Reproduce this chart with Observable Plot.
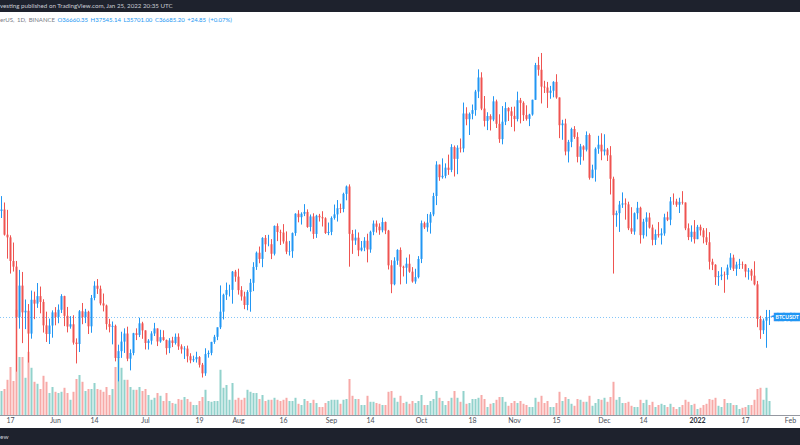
<!DOCTYPE html>
<html><head><meta charset="utf-8">
<script src="https://cdn.jsdelivr.net/npm/d3@7"></script>
<script src="https://cdn.jsdelivr.net/npm/@observablehq/plot@0.6"></script>
<style>
html,body{margin:0;padding:0;background:#fff;overflow:hidden;}
body{width:800px;height:445px;font-family:"Lato","DejaVu Sans",sans-serif;}
#top{height:12px;background:#1e222d;color:#c9ccd4;font-size:6.2px;line-height:12px;white-space:nowrap;overflow:hidden;}
#wrap{position:relative;width:800px;height:416px;overflow:hidden;}
#wrap svg{position:absolute;left:0;top:0;}
#legend{position:absolute;left:0;top:4px;font-size:6px;line-height:8px;color:#787b86;white-space:nowrap;z-index:3;word-spacing:1px;}
#legend .v{color:#2196f3;}
#bottom{height:17px;background:#1e222d;color:#c9ccd4;font-size:6.5px;line-height:17px;white-space:nowrap;overflow:hidden;}
</style></head>
<body>
<div id="top">vesting published on TradingView.com, Jan 25, 2022 20:35 UTC</div>
<div id="wrap"><div id="legend">erUS, 1D, BINANCE <span class="v">O36660.35 H37545.14 L35701.00 C36685.20 +24.85 (+0.07%)</span></div></div>
<div id="bottom">ew</div>
<script>
const dates = [
"2021-05-14","2021-05-15","2021-05-16","2021-05-17","2021-05-18","2021-05-19","2021-05-20","2021-05-21","2021-05-22","2021-05-23","2021-05-24","2021-05-25","2021-05-26","2021-05-27","2021-05-28","2021-05-29","2021-05-30","2021-05-31",
"2021-06-01","2021-06-02","2021-06-03","2021-06-04","2021-06-05","2021-06-06","2021-06-07","2021-06-08","2021-06-09","2021-06-10","2021-06-11","2021-06-12","2021-06-13","2021-06-14","2021-06-15","2021-06-16","2021-06-17","2021-06-18","2021-06-19","2021-06-20","2021-06-21","2021-06-22","2021-06-23","2021-06-24","2021-06-25","2021-06-26","2021-06-27","2021-06-28","2021-06-29","2021-06-30",
"2021-07-01","2021-07-02","2021-07-03","2021-07-04","2021-07-05","2021-07-06","2021-07-07","2021-07-08","2021-07-09","2021-07-10","2021-07-11","2021-07-12","2021-07-13","2021-07-14","2021-07-15","2021-07-16","2021-07-17","2021-07-18","2021-07-19","2021-07-20","2021-07-21","2021-07-22","2021-07-23","2021-07-24","2021-07-25","2021-07-26","2021-07-27","2021-07-28","2021-07-29","2021-07-30","2021-07-31",
"2021-08-01","2021-08-02","2021-08-03","2021-08-04","2021-08-05","2021-08-06","2021-08-07","2021-08-08","2021-08-09","2021-08-10","2021-08-11","2021-08-12","2021-08-13","2021-08-14","2021-08-15","2021-08-16","2021-08-17","2021-08-18","2021-08-19","2021-08-20","2021-08-21","2021-08-22","2021-08-23","2021-08-24","2021-08-25","2021-08-26","2021-08-27","2021-08-28","2021-08-29","2021-08-30","2021-08-31",
"2021-09-01","2021-09-02","2021-09-03","2021-09-04","2021-09-05","2021-09-06","2021-09-07","2021-09-08","2021-09-09","2021-09-10","2021-09-11","2021-09-12","2021-09-13","2021-09-14","2021-09-15","2021-09-16","2021-09-17","2021-09-18","2021-09-19","2021-09-20","2021-09-21","2021-09-22","2021-09-23","2021-09-24","2021-09-25","2021-09-26","2021-09-27","2021-09-28","2021-09-29","2021-09-30",
"2021-10-01","2021-10-02","2021-10-03","2021-10-04","2021-10-05","2021-10-06","2021-10-07","2021-10-08","2021-10-09","2021-10-10","2021-10-11","2021-10-12","2021-10-13","2021-10-14","2021-10-15","2021-10-16","2021-10-17","2021-10-18","2021-10-19","2021-10-20","2021-10-21","2021-10-22","2021-10-23","2021-10-24","2021-10-25","2021-10-26","2021-10-27","2021-10-28","2021-10-29","2021-10-30","2021-10-31",
"2021-11-01","2021-11-02","2021-11-03","2021-11-04","2021-11-05","2021-11-06","2021-11-07","2021-11-08","2021-11-09","2021-11-10","2021-11-11","2021-11-12","2021-11-13","2021-11-14","2021-11-15","2021-11-16","2021-11-17","2021-11-18","2021-11-19","2021-11-20","2021-11-21","2021-11-22","2021-11-23","2021-11-24","2021-11-25","2021-11-26","2021-11-27","2021-11-28","2021-11-29","2021-11-30",
"2021-12-01","2021-12-02","2021-12-03","2021-12-04","2021-12-05","2021-12-06","2021-12-07","2021-12-08","2021-12-09","2021-12-10","2021-12-11","2021-12-12","2021-12-13","2021-12-14","2021-12-15","2021-12-16","2021-12-17","2021-12-18","2021-12-19","2021-12-20","2021-12-21","2021-12-22","2021-12-23","2021-12-24","2021-12-25","2021-12-26","2021-12-27","2021-12-28","2021-12-29","2021-12-30","2021-12-31",
"2022-01-01","2022-01-02","2022-01-03","2022-01-04","2022-01-05","2022-01-06","2022-01-07","2022-01-08","2022-01-09","2022-01-10","2022-01-11","2022-01-12","2022-01-13","2022-01-14","2022-01-15","2022-01-16","2022-01-17","2022-01-18","2022-01-19","2022-01-20","2022-01-21","2022-01-22","2022-01-23","2022-01-24","2022-01-25"
];
const open = [
49671,49841,46762,46432,43538,42849,36690,40527,37252,37449,34655,38796,38324,39241,38529,35663,34605,35641,
37253,36693,37568,39246,36829,35513,35796,33552,33380,37388,36675,37331,35546,39020,40516,40144,38349,38092,35820,35483,35600,31676,32505,33675,34663,31584,32283,34700,34494,35911,
35045,33504,33786,34669,35287,33690,34220,33863,32875,33815,33502,34259,33086,32730,32820,31880,31383,31520,31778,30839,29790,32144,32288,33634,34258,35425,37338,39406,39995,40008,42235,
41626,39974,39202,38152,39747,40870,42816,44555,43798,46366,45585,45593,44429,47834,47097,47019,45937,44686,44742,46958,49327,48905,49322,49546,47707,48993,46852,49078,48895,48767,46970,
47100,48811,49246,49999,49915,51756,52663,46863,46048,46395,44850,45173,46026,44947,47112,48121,47737,47300,48306,47261,43012,40694,43575,44895,42840,42717,43208,42235,41034,41564,
43790,48165,47657,48233,49245,51493,55339,53797,53963,54963,54691,57484,56041,57401,57321,61593,60892,61553,62010,64280,66002,62193,60689,61286,60852,63078,60329,58455,60592,62253,61859,
61300,60911,63219,62896,61395,60937,61470,63273,67525,66947,64882,64774,64122,64380,65466,63557,60161,60369,56943,58119,59697,58730,56289,57569,57165,58960,53727,54722,57274,57776,
56950,57184,56480,53602,49152,49397,50441,50589,50471,47546,47140,49389,50053,46702,48343,48864,47632,46131,46834,46681,46914,48889,48588,50838,50821,50429,50775,50701,47543,46464,47120,
46216,47722,47287,46446,45833,43451,43082,41566,41680,41864,41822,42735,43949,42592,43099,43177,43114,42250,42375,41744,40680,36445,35071,36244,36660.35
];
const high = [
51483,50700,49800,46686,45800,43546,42451,42200,38829,38270,39920,39791,40841,40411,38856,37338,36488,37499,
37894,38225,39476,39289,37917,36790,36900,34068,37534,38400,37681,37453,39380,41064,41330,40528,39559,38203,36457,36137,35750,33298,34881,35298,35500,32730,34749,35297,36600,36100,
35057,33977,34945,35967,35293,35118,35059,33929,34100,34262,34666,34679,33340,33114,33185,32249,31955,32435,31899,31063,32858,32591,33650,34500,35398,40550,39542,40900,40640,42316,42448,
42600,40459,39780,39969,41350,43392,44700,45310,46454,46718,46743,46218,47886,48144,47372,48053,47160,46000,47033,49382,49757,49500,50500,49860,49230,49380,49200,49309,49632,48888,48246,
49000,50450,51000,50558,51900,52780,52920,47340,47399,47033,45987,46460,46880,47250,48500,48500,48150,48843,48372,47347,43639,44000,44978,45200,42970,43950,44350,42790,42590,44141,
48495,48359,49300,49528,51886,55750,55339,56100,55489,56561,57839,57680,57700,58532,62933,62360,61720,62695,64486,67000,66639,63732,61747,61500,63710,63293,61496,62499,62980,62359,62405,
62437,64270,63500,63086,62595,61560,63286,67789,68524,69000,65600,65460,64972,65550,66401,63558,60823,60948,58366,59859,60050,59292,57875,57700,59398,59150,55329,57445,58865,59176,
59053,57375,57600,53859,49699,50891,51936,51200,50797,50125,49485,50777,50189,48700,49500,49436,47995,47392,48300,47537,49328,49576,51375,51810,51156,51280,52088,50704,48139,47900,48548,
47954,47990,47570,47557,47070,43816,43145,42300,42786,42248,43100,44500,44314,43448,43800,43476,43179,42675,42572,43505,41100,36835,36499,37550,37545.14
];
const low = [
48800,46650,43825,42001,42250,30000,35258,33488,35200,31111,34031,36419,37800,37134,34779,33632,33379,34154,
35666,35920,37170,35567,34800,35258,33300,31000,32397,35800,35937,34600,34757,38730,39506,38116,37365,35129,34803,33336,31251,28805,31683,32286,31275,30151,32000,33862,34225,34017,
32711,32699,33316,34357,33125,33532,33777,32077,32261,33004,33306,32658,32203,31550,31133,31020,31164,31108,30501,29278,29482,31708,32000,33401,33851,35205,36383,38772,39200,38313,41000,
39422,38690,37642,37508,37332,39853,42446,43261,42779,44660,45341,43770,44217,45971,45500,45660,44376,44203,43927,46622,48273,48000,49035,47600,47163,46250,46370,48370,47762,46853,46700,
46700,48600,48367,49400,49500,50969,42843,44412,45514,44132,44722,44742,43370,44550,46700,47014,46750,47045,46829,42500,39600,40565,43069,40675,41646,40750,42098,40888,40753,41410,
43283,47451,47120,46891,49022,50382,53357,53617,53661,54080,54415,53879,54167,56818,56850,60150,58963,60877,61322,63481,62000,60000,59562,59510,60650,59817,58000,57820,60174,60673,59945,
59405,60624,60382,60677,60721,60050,61322,63273,66222,62822,64100,62278,63400,63576,63400,58574,58373,56474,55600,57469,58486,55610,55317,55837,56950,53500,53668,53256,56666,55875,
56458,55777,51680,42000,47727,47100,50039,48600,47320,46852,46751,48638,45672,46290,46547,47511,45456,45500,46406,45558,46630,48421,47920,50420,50171,49412,50449,47313,46096,45900,45678,
46208,46654,45696,45500,42500,42430,40610,40501,41200,39650,41268,42447,42311,41726,42555,42581,41540,41251,41138,40553,35440,34008,34601,32917,35701
];
const close = [
49841,46762,46432,43538,42849,36690,40527,37252,37449,34655,38796,38324,39241,38529,35663,34605,35641,37253,
36693,37568,39246,36829,35513,35796,33552,33380,37388,36675,37331,35546,39020,40516,40144,38349,38092,35820,35483,35600,31676,32505,33675,34663,31584,32283,34700,34494,35911,35045,
33504,33786,34669,35287,33690,34220,33863,32875,33815,33502,34259,33086,32730,32820,31880,31383,31520,31778,30839,29790,32144,32288,33634,34258,35425,37338,39406,39995,40008,42235,41626,
39974,39202,38152,39747,40870,42816,44555,43798,46366,45585,45593,44429,47834,47097,47019,45937,44686,44742,46958,49327,48905,49322,49546,47707,48993,46852,49078,48895,48767,46970,47100,
48811,49246,49999,49915,51756,52663,46863,46048,46395,44850,45173,46026,44947,47112,48121,47737,47300,48306,47261,43012,40694,43575,44895,42840,42717,43208,42235,41034,41564,43790,
48165,47657,48233,49245,51493,55339,53797,53963,54963,54691,57484,56041,57401,57321,61593,60892,61553,62010,64280,66002,62193,60689,61286,60852,63078,60329,58455,60592,62253,61859,61300,
60911,63219,62896,61395,60937,61470,63273,67525,66947,64882,64774,64122,64380,65466,63557,60161,60369,56943,58119,59697,58730,56289,57569,57165,58960,53727,54722,57274,57776,56950,
57184,56480,53602,49152,49397,50441,50589,50471,47546,47140,49389,50053,46702,48343,48864,47632,46131,46834,46681,46914,48889,48588,50838,50821,50429,50775,50701,47543,46464,47120,46216,
47722,47287,46446,45833,43451,43082,41566,41680,41864,41822,42735,43949,42592,43099,43177,43114,42250,42375,41744,40680,36445,35071,36244,36660.35,36685.2
];
// volume, thousand BTC
const volume = [
60,65,88,120,85,263,145,145,93,158,118,83,78,65,98,83,55,70,
58,55,58,68,55,38,58,90,100,83,60,65,65,80,65,63,58,70,50,65,120,145,118,88,88,70,63,63,70,60,
65,50,38,43,55,48,35,55,35,30,28,40,38,45,40,33,25,25,35,45,63,35,33,35,35,113,68,75,38,80,38,
43,38,43,63,58,55,55,40,50,35,38,38,43,38,35,38,43,35,35,43,28,25,40,35,30,38,30,20,20,30,35,
38,38,38,28,38,40,90,48,40,40,25,25,48,33,33,30,28,25,25,58,60,43,33,48,30,33,28,35,30,35,
50,25,25,35,40,60,43,35,25,35,43,60,43,33,60,28,30,40,40,43,50,40,20,28,30,38,45,45,33,23,30,
35,30,35,28,25,20,20,43,33,48,30,35,20,20,30,58,35,45,40,28,23,40,38,33,33,48,23,30,40,38,
43,33,45,83,38,45,30,30,33,23,20,20,38,30,38,25,33,20,25,28,25,20,28,20,15,20,25,38,33,25,28,
15,18,25,28,40,38,43,23,20,40,30,30,25,25,15,18,20,25,25,38,65,68,38,68,35
];
const tickDates = ["2021-05-17","2021-06-01","2021-06-14","2021-07-01","2021-07-19","2021-08-01","2021-08-16","2021-09-01","2021-09-14","2021-10-01","2021-10-18","2021-11-01","2021-11-15","2021-12-01","2021-12-14","2022-01-01","2022-01-17","2022-02-01"];
const tickLabels = ["17","Jun","14","Jul","19","Aug","16","Sep","14","Oct","18","Nov","15","Dec","14","2022","17","Feb"];
const yearTick = "2022-01-01";
const symbol = "BTCUSDT";

const UP = "#2196f3", DOWN = "#ef5350";
const VUP = "rgba(38,166,154,0.5)", VDOWN = "rgba(239,83,80,0.5)";
const rows = dates.map((d, i) => ({date: new Date(d), open: open[i], high: high[i], low: low[i], close: close[i], volume: volume[i]}));
const lastClose = close[close.length - 1];
const DAY = 864e5;
const xDomain = [new Date(Date.parse(tickDates[0]) - 10 / 3 * DAY), new Date(Date.parse(tickDates[tickDates.length - 1]) + 10 / 3 * DAY)];
const labelOf = new Map(tickDates.map((d, i) => [Date.parse(d), tickLabels[i]]));
const regularTicks = tickDates.filter(d => d !== yearTick).map(d => new Date(d));
const W = 800, H = 416, MB = 13;

const volPlot = Plot.plot({
  width: W, height: H, marginTop: 0, marginLeft: 0, marginRight: 0, marginBottom: MB,
  style: {background: "transparent", fontFamily: "Lato, DejaVu Sans, sans-serif"},
  x: {type: "utc", domain: xDomain},
  y: {domain: [0, 250], range: [H - MB, H - MB - 100], axis: null},
  color: {type: "identity"},
  marks: [
    Plot.ruleX(rows, {x: "date", y1: 0, y2: "volume", stroke: d => d.close >= d.open ? VUP : VDOWN, strokeWidth: 2}),
    Plot.ruleY([0], {stroke: "#9598a1", strokeWidth: 1}),
    Plot.axisX(regularTicks, {tickSize: 0, tickPadding: 3, fontSize: 7, fill: "#4a4e59", tickFormat: d => labelOf.get(+d)}),
    Plot.axisX([new Date(yearTick)], {tickSize: 0, tickPadding: 3, fontSize: 7, fontWeight: "bold", fill: "#2a2e39", tickFormat: d => labelOf.get(+d)})
  ]
});

const candlePlot = Plot.plot({
  width: W, height: H, marginTop: 0, marginLeft: 0, marginRight: 0, marginBottom: MB,
  style: {background: "transparent", fontFamily: "Lato, DejaVu Sans, sans-serif"},
  x: {type: "utc", domain: xDomain, axis: null},
  y: {domain: [24690, 74017], axis: null},
  color: {type: "identity"},
  marks: [
    Plot.ruleY([lastClose], {stroke: UP, strokeOpacity: 0.55, strokeDasharray: "1,2"}),
    Plot.ruleX(rows, {x: "date", y1: "low", y2: "high", stroke: d => d.close >= d.open ? UP : DOWN, strokeWidth: 1}),
    Plot.ruleX(rows, {x: "date", y1: "open", y2: "close", stroke: d => d.close >= d.open ? UP : DOWN, strokeWidth: 2}),
    Plot.text([lastClose], {y: d => d, frameAnchor: "right", dx: -25, textAnchor: "start", text: () => symbol,
      fill: "white", stroke: UP, strokeWidth: 4.5, strokeLinejoin: "miter", fontSize: 5.2, fontWeight: "bold"})
  ]
});

const wrap = document.getElementById("wrap");
wrap.insertBefore(volPlot, wrap.firstChild);
wrap.insertBefore(candlePlot, document.getElementById("legend"));
</script>
</body></html>
